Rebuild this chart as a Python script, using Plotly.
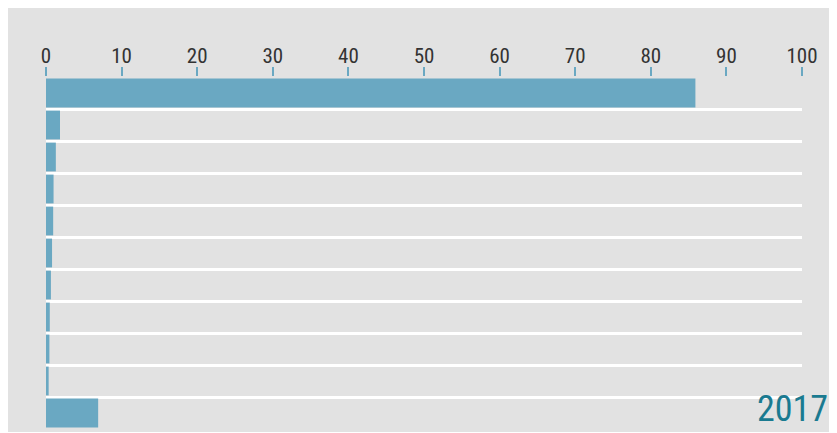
import plotly.graph_objects as go

categories = list(range(11))
values = [85.9, 1.85, 1.3, 1.0, 0.95, 0.8, 0.65, 0.5, 0.45, 0.35, 6.9]
tick_vals = [0, 10, 20, 30, 40, 50, 60, 70, 80, 90, 100]
year_label = "2017"

BG = "#e2e2e2"
BAR = "#6aa8c2"
TEAL = "#1a7a90"
FONT = "Roboto Condensed"

W, H = 829, 424
ml, mr, mt, mb = 38, 35, 69, 3
pw = W - ml - mr
ph = H - mt - mb

fig = go.Figure()
fig.add_trace(go.Bar(
    x=values, y=categories, orientation="h",
    marker=dict(color=BAR, line=dict(width=0)),
    width=0.9, hoverinfo="skip",
))

fig.add_annotation(text=year_label, xref="paper", yref="paper",
                   x=(822 - ml) / pw, y=(H - mb - 401) / ph,
                   xanchor="right", yanchor="middle", showarrow=False,
                   font=dict(family=FONT, size=36, color=TEAL, weight=400))

fig.update_layout(
    width=W, height=H,
    margin=dict(l=ml, r=mr, t=mt, b=mb),
    paper_bgcolor=BG, plot_bgcolor=BG,
    showlegend=False, bargap=0.1,
    xaxis=dict(side="top", range=[0, 100], tickvals=tick_vals,
               showgrid=False, zeroline=False, showline=False,
               ticks="outside", ticklen=9, tickwidth=2, tickcolor=BAR,
               ticklabelstandoff=-4,
               tickfont=dict(family=FONT, size=21, color="#333333", weight=400),
               fixedrange=True),
    yaxis=dict(range=[10.5, -0.5], tickvals=[i - 0.5 for i in range(11)],
               showticklabels=False, ticks="", showgrid=True,
               gridcolor="white", gridwidth=3, zeroline=False,
               showline=False, fixedrange=True),
)

fig.write_html("out.html")
